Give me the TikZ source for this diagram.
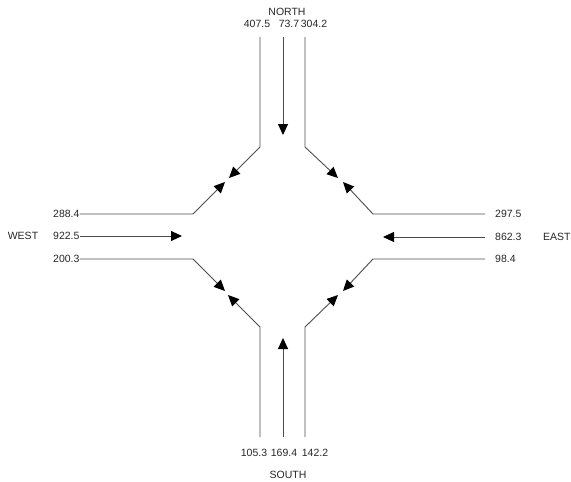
\documentclass[tikz,border=0pt]{standalone}
\usepackage{fontspec}
\setmainfont{Liberation Sans}
\usetikzlibrary{arrows.meta}

\begin{document}
\begin{tikzpicture}[x=1pt,y=-1pt,
  lane/.style={draw=black!70,line width=0.9pt},
  flow/.style={lane,-{Triangle[length=11pt,width=10pt,color=black]}},
  lbl/.style={inner sep=0pt,font=\fontsize{10.5}{12}\selectfont,text=black!85}]
			\useasboundingbox (0,0) rectangle (571,482);
			% north approach
			\node[lbl] (north) at (287,12) {NORTH};
			\node[lbl] (nl) at (257,24) {407.5};
			\node[lbl] (nt) at (289,24) {73.7};
			\node[lbl] (nr) at (314,24) {304.2};
			\coordinate (n1) at (260,37); \coordinate (n1b) at (260,147); \coordinate (n1e) at (229,178);
			\coordinate (n2) at (283,37); \coordinate (n2e) at (283,135);
			\coordinate (n3) at (305,37); \coordinate (n3b) at (305,147); \coordinate (n3e) at (338,178);
			\draw[flow] (n1) -- (n1b) -- (n1e);
			\draw[flow] (n2) -- (n2e);
			\draw[flow] (n3) -- (n3b) -- (n3e);
			% west approach
			\node[lbl] (west) at (23,236) {WEST};
			\node[lbl,anchor=west] (wl) at (53,214) {288.4};
			\node[lbl,anchor=west] (wt) at (53,236) {922.5};
			\node[lbl,anchor=west] (wr) at (53,259) {200.3};
			\coordinate (w1b) at (193,214); \coordinate (w1e) at (225,182);
			\coordinate (w2e) at (182,236);
			\coordinate (w3b) at (193,259); \coordinate (w3e) at (225,291);
			\draw[flow] (wl.east) -- (w1b) -- (w1e);
			\draw[flow] (wt.east) -- (w2e);
			\draw[flow] (wr.east) -- (w3b) -- (w3e);
			% east approach
			\node[lbl,anchor=west] (east) at (543,237) {EAST};
			\node[lbl,anchor=west] (er) at (495,214) {297.5};
			\node[lbl,anchor=west] (et) at (495,237) {862.3};
			\node[lbl,anchor=west] (el) at (495,259) {98.4};
			\coordinate (e1) at (485,214); \coordinate (e1b) at (373,214); \coordinate (e1e) at (343,182);
			\coordinate (e2) at (485,237); \coordinate (e2e) at (383,237);
			\coordinate (e3) at (485,259); \coordinate (e3b) at (373,259); \coordinate (e3e) at (343,291);
			\draw[flow] (e1) -- (e1b) -- (e1e);
			\draw[flow] (e2) -- (e2e);
			\draw[flow] (e3) -- (e3b) -- (e3e);
			% south approach
			\node[lbl] (sl) at (254,453) {105.3};
			\node[lbl] (st) at (284,453) {169.4};
			\node[lbl] (sr) at (315,453) {142.2};
			\node[lbl] (south) at (288,475) {SOUTH};
			\coordinate (s1) at (260,437); \coordinate (s1b) at (260,327); \coordinate (s1e) at (228,295);
			\coordinate (s2) at (283,437); \coordinate (s2e) at (283,338);
			\coordinate (s3) at (305,437); \coordinate (s3b) at (305,327); \coordinate (s3e) at (338,295);
			\draw[flow] (s1) -- (s1b) -- (s1e);
			\draw[flow] (s2) -- (s2e);
			\draw[flow] (s3) -- (s3b) -- (s3e);
		\end{tikzpicture}
\end{document}
